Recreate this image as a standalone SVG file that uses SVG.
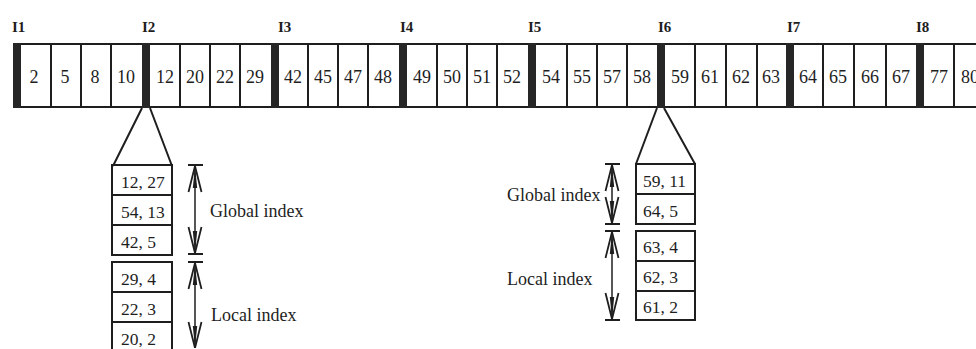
<svg xmlns="http://www.w3.org/2000/svg" width="976" height="349" viewBox="0 0 976 349">
<style>
text{font-family:"Liberation Serif","Times New Roman",serif;fill:#1e1e1e}
.num{font-size:18px;text-anchor:middle}
.lbl{font-size:15px;font-weight:bold}
.ent{font-size:17.5px}
.cap{font-size:18px}
.cell{fill:#fff;stroke:#1e1e1e;stroke-width:2}
.bar{fill:#262626}
.ln{stroke:#1e1e1e;stroke-width:2;fill:none}
.tick{stroke:#1e1e1e;stroke-width:2}
.arr{stroke:#1e1e1e;stroke-width:1.5;fill:none}
</style>
<defs>
<marker id="ah" viewBox="0 -8 28 16" markerWidth="28" markerHeight="16" refX="28" refY="0" orient="auto-start-reverse" markerUnits="userSpaceOnUse">
<path d="M28,0 L2,-6.5 M28,0 L2,6.5" stroke="#1e1e1e" stroke-width="1.8" fill="none"/>
<path d="M28,0 L6,-2.2 L6,2.2 Z" fill="#1e1e1e"/>
</marker>
</defs>
<rect width="976" height="349" fill="#fff"/>

<g id="array">
<line class="ln" x1="13" y1="44" x2="976" y2="44"/>
<line class="ln" x1="13" y1="107" x2="976" y2="107"/>
<g id="seg1">
<path class="ln" d="M51,44V107M81,44V107M111,44V107"/>
<text class="num" x="34" y="83">2</text><text class="num" x="65" y="83">5</text><text class="num" x="95" y="83">8</text><text class="num" x="126" y="83">10</text>
</g>
<g id="seg2">
<path class="ln" d="M180,44V107M210,44V107M240,44V107"/>
<text class="num" x="165" y="83">12</text><text class="num" x="195" y="83">20</text><text class="num" x="225" y="83">22</text><text class="num" x="255" y="83">29</text>
</g>
<g id="seg3">
<path class="ln" d="M308,44V107M338,44V107M368,44V107"/>
<text class="num" x="293" y="83">42</text><text class="num" x="323" y="83">45</text><text class="num" x="353" y="83">47</text><text class="num" x="383" y="83">48</text>
</g>
<g id="seg4">
<path class="ln" d="M437,44V107M467,44V107M497,44V107"/>
<text class="num" x="422" y="83">49</text><text class="num" x="452" y="83">50</text><text class="num" x="482" y="83">51</text><text class="num" x="512" y="83">52</text>
</g>
<g id="seg5">
<path class="ln" d="M567,44V107M597,44V107M627,44V107"/>
<text class="num" x="551" y="83">54</text><text class="num" x="582" y="83">55</text><text class="num" x="612" y="83">57</text><text class="num" x="642" y="83">58</text>
</g>
<g id="seg6">
<path class="ln" d="M695,44V107M726,44V107M757,44V107"/>
<text class="num" x="680" y="83">59</text><text class="num" x="710" y="83">61</text><text class="num" x="741" y="83">62</text><text class="num" x="771" y="83">63</text>
</g>
<g id="seg7">
<path class="ln" d="M823,44V107M854,44V107M886,44V107"/>
<text class="num" x="808" y="83">64</text><text class="num" x="838" y="83">65</text><text class="num" x="870" y="83">66</text><text class="num" x="901" y="83">67</text>
</g>
<g id="seg8">
<path class="ln" d="M954,44V107"/>
<text class="num" x="939" y="83">77</text><text class="num" x="970" y="83">80</text>
</g>
<g id="bars">
<rect class="bar" x="13" y="43" width="8" height="65"/>
<rect class="bar" x="142" y="43" width="8" height="65"/>
<rect class="bar" x="271" y="43" width="8" height="65"/>
<rect class="bar" x="399" y="43" width="8" height="65"/>
<rect class="bar" x="528" y="43" width="8" height="65"/>
<rect class="bar" x="657" y="43" width="8" height="65"/>
<rect class="bar" x="786" y="43" width="8" height="65"/>
<rect class="bar" x="916" y="43" width="8" height="65"/>
</g>
<g id="labels">
<text class="lbl" x="12" y="32">I1</text>
<text class="lbl" x="142" y="32">I2</text>
<text class="lbl" x="278" y="32">I3</text>
<text class="lbl" x="400" y="32">I4</text>
<text class="lbl" x="528" y="32">I5</text>
<text class="lbl" x="658" y="32">I6</text>
<text class="lbl" x="787" y="32">I7</text>
<text class="lbl" x="916" y="32">I8</text>
</g>
</g>

<g id="stack-left">
<rect class="cell" x="112" y="165" width="60" height="90"/>
<path class="ln" d="M112,195H172M112,225H172"/>
<rect class="cell" x="112" y="262" width="60" height="100"/>
<path class="ln" d="M112,292H172M112,322H172"/>
<text class="ent" x="121" y="188">12, 27</text>
<text class="ent" x="121" y="218">54, 13</text>
<text class="ent" x="121" y="248">42, 5</text>
<text class="ent" x="121" y="285">29, 4</text>
<text class="ent" x="121" y="315">22, 3</text>
<text class="ent" x="121" y="345">20, 2</text>
</g>
<g id="stack-right">
<rect class="cell" x="636" y="164" width="59" height="60"/>
<path class="ln" d="M636,194H695"/>
<rect class="cell" x="636" y="231" width="59" height="89"/>
<path class="ln" d="M636,261H695M636,291H695"/>
<text class="ent" x="643" y="187">59, 11</text>
<text class="ent" x="643" y="217">64, 5</text>
<text class="ent" x="643" y="253">63, 4</text>
<text class="ent" x="643" y="283">62, 3</text>
<text class="ent" x="643" y="313">61, 2</text>
</g>
<g id="captions">
<text class="cap" x="210" y="217">Global index</text>
<text class="cap" x="211" y="321">Local index</text>
<text class="cap" x="507" y="201">Global index</text>
<text class="cap" x="507" y="285">Local index</text>
</g>

<g id="connectors">
<path class="ln" d="M142,108L113,166M150,108L172,166"/>
<path class="ln" d="M657,108L636,164M664,108L695,164"/>
<path class="tick" d="M188,165H203M188,254H203M188,262H203"/>
<line class="arr" x1="195" y1="166" x2="195" y2="253" marker-start="url(#ah)" marker-end="url(#ah)"/>
<line class="arr" x1="195" y1="263" x2="195" y2="348" marker-start="url(#ah)" marker-end="url(#ah)"/>
<path class="tick" d="M605,164H620M605,224H620M605,231H620M605,320H620"/>
<line class="arr" x1="612" y1="165" x2="612" y2="223" marker-start="url(#ah)" marker-end="url(#ah)"/>
<line class="arr" x1="612" y1="232" x2="612" y2="319" marker-start="url(#ah)" marker-end="url(#ah)"/>
</g>
</svg>
